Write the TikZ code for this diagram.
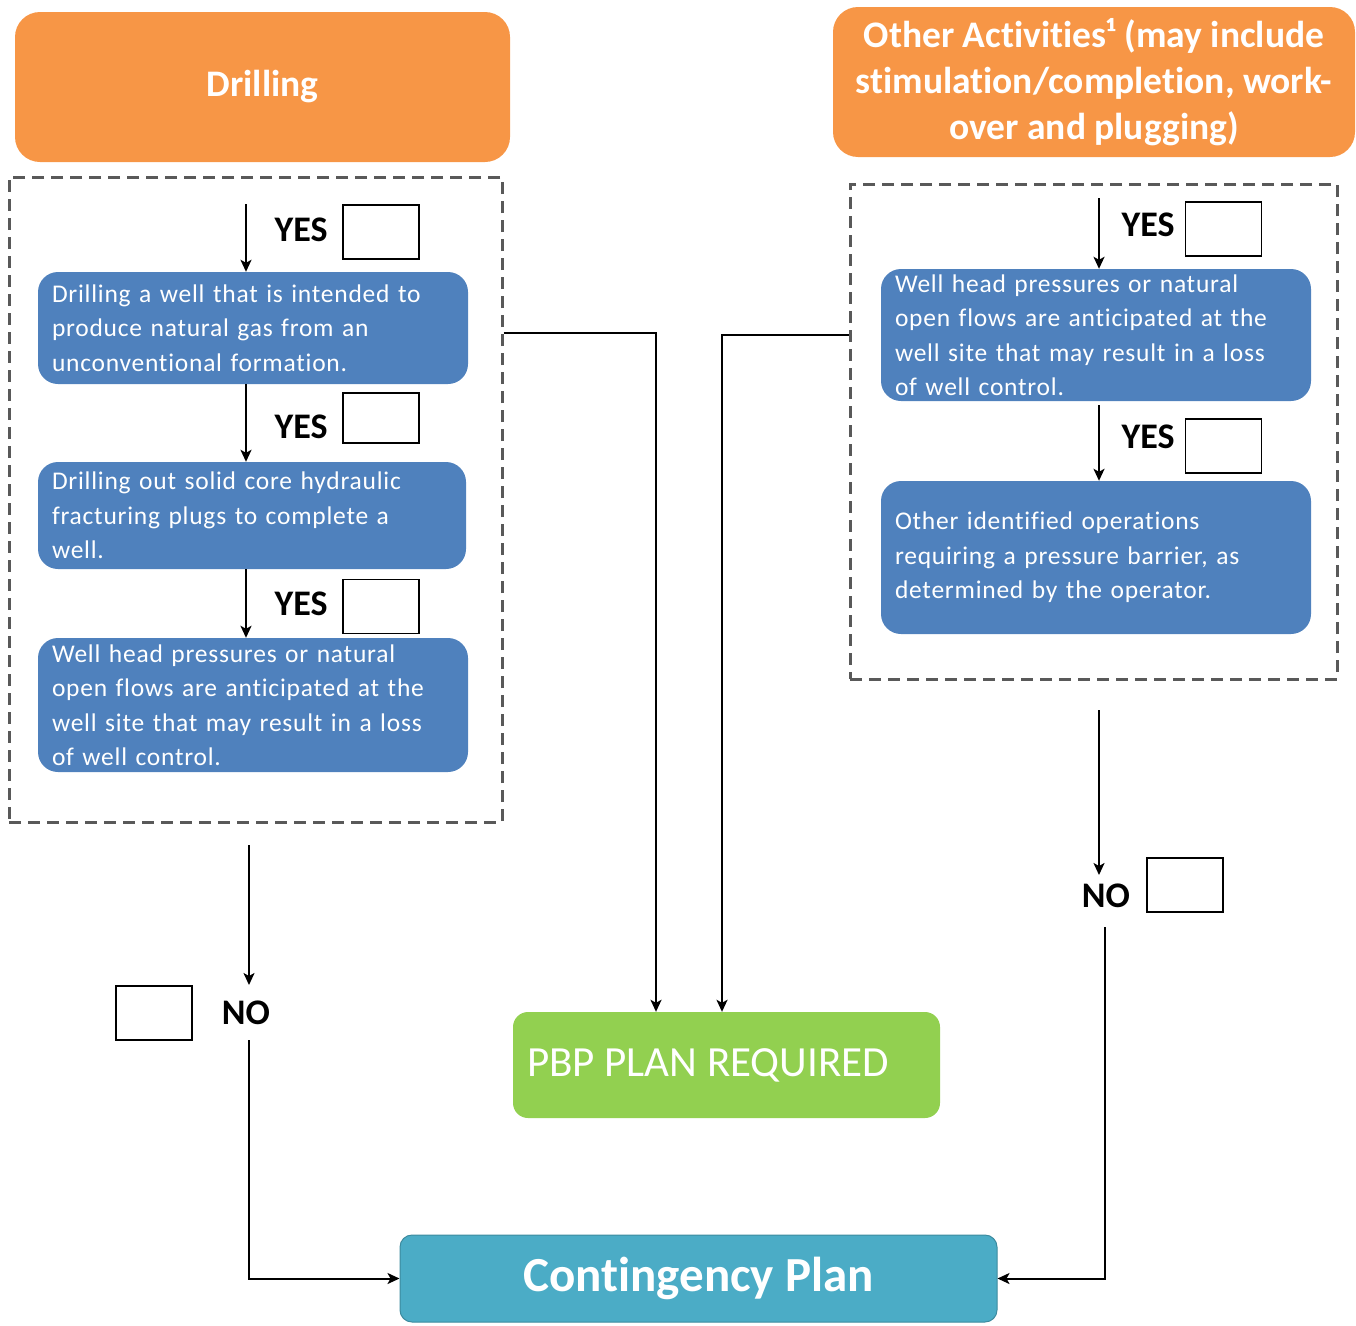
\documentclass[tikz,border=0pt]{standalone}
\usepackage{fontspec}
\setmainfont{Carlito}[Ligatures=NoCommon]
\newfontfamily\bluefont{Carlito}[Ligatures=NoCommon, LetterSpace=3]
\usetikzlibrary{arrows.meta,calc}
\definecolor{orng}{HTML}{F79646}
\definecolor{bluebox}{HTML}{4F81BD}
\definecolor{grn}{HTML}{92D050}
\definecolor{cyanbox}{HTML}{4BACC6}
\definecolor{dashgray}{HTML}{595959}
\begin{document}
\begin{tikzpicture}[x=1pt,y=-1pt,
  hdr/.style={fill=orng, rounded corners=25pt, text=white, font=\bfseries\fontsize{37.5}{46}\selectfont, inner sep=0pt, align=center},
  blu/.style={fill=bluebox, rounded corners=20pt, text=white, font=\bluefont\fontsize{25.5}{34.5}\selectfont, align=left, inner xsep=14pt, inner ysep=0pt, text width=402pt},
  dbox/.style={draw=dashgray, line width=3pt, dash pattern=on 12pt off 7pt, inner sep=0pt},
  chk/.style={draw, line width=1.5pt, minimum width=76pt, minimum height=54pt, inner sep=0pt},
  lbl/.style={font=\bfseries\fontsize{36}{40}\selectfont, inner sep=0pt},
  arr/.style={-{Stealth[length=12pt,width=11pt,inset=3pt]}, line width=2pt},
]
\useasboundingbox (0,0) rectangle (1356,1325);
% headers
\node[hdr, minimum width=495pt, minimum height=150pt] (drill) at (262.5,87) {Drilling};
\node[hdr, minimum width=522pt, minimum height=150pt] (other) at (1094,82) {Other Activities¹ (may include\\stimulation/completion, work-\\over and plugging)};
% dashed boxes
\node[dbox, minimum width=493pt, minimum height=645pt] (lbox) at (255.5,499.5) {};
\node[dbox, minimum width=487pt, minimum height=495pt] (rbox) at (1093.5,431.5) {};
% blue boxes
\node[blu, minimum height=112pt] (b1) at (253,328) {Drilling a well that is intended to\\produce natural gas from an\\unconventional formation.};
\node[blu, minimum height=107pt, text width=400pt] (b2) at (252,515.5) {Drilling out solid core hydraulic\\fracturing plugs to complete a\\well.};
\node[blu, minimum height=134pt] (b3) at (253,705) {Well head pressures or natural\\open flows are anticipated at the\\well site that may result in a loss\\of well control.};
\node[blu, minimum height=132pt] (b4) at (1096,335) {Well head pressures or natural\\open flows are anticipated at the\\well site that may result in a loss\\of well control.};
\node[blu, minimum height=153pt] (b5) at (1096,557.5) {Other identified operations\\requiring a pressure barrier, as\\determined by the operator.};
% result boxes
\node[fill=grn, rounded corners=15pt, minimum width=427pt, minimum height=106pt, inner sep=0pt, text=white, font=\fontsize{43}{46}\selectfont] (pbp) at (726.5,1065) {\makebox[399pt][l]{PBP PLAN REQUIRED}};
\node[fill=cyanbox, draw=cyanbox!80!black, line width=1pt, rounded corners=12pt, minimum width=597pt, minimum height=87pt, inner sep=0pt, text=white, font=\bfseries\fontsize{49}{52}\selectfont] (cont) at (698.5,1278.5) {Contingency Plan};
% checkboxes and labels
\node[chk] (c1) at (381,232) {};
\node[chk, minimum height=50pt] (c2) at (381,418) {};
\node[chk] (c3) at (381,606.5) {};
\node[chk] (c4) at (1223.5,229) {};
\node[chk] (c5) at (1223.5,446) {};
\node[chk] (cnl) at (154,1013) {};
\node[chk] (cnr) at (1185,885) {};
\node[lbl] (y1) at (301,230) {YES};
\node[lbl] (y2) at (301,427) {YES};
\node[lbl] (y3) at (301,604) {YES};
\node[lbl] (y4) at (1148,225) {YES};
\node[lbl] (y5) at (1148,437) {YES};
\node[lbl] (no1) at (246,1013) {NO};
\node[lbl] (no2) at (1106,896) {NO};
% coordinates
\coordinate (a1) at (246,204);
\coordinate (a4) at (1099,198);
\coordinate (lturn) at (656,333);
\coordinate (rturn) at (722,335);
\coordinate (n1s) at (249,845);
\coordinate (n1e) at (249,985);
\coordinate (n1b) at (249,1040);
\coordinate (n2s) at (1099,710);
\coordinate (n2e) at (1099,875);
\coordinate (n2b) at (1105,927);
% connectors
\draw[arr] (a1) -- (a1 |- b1.north);
\draw[arr] (b1.south -| a1) -- (a1 |- b2.north);
\draw[arr] (b2.south -| a1) -- (a1 |- b3.north);
\draw[arr] (a4) -- (a4 |- b4.north);
\draw[arr] ($(b4.south -| a4)+(0,4)$) -- (a4 |- b5.north);
\draw[arr] (lbox.east |- lturn) -- (lturn) -- (lturn |- pbp.north);
\draw[arr] (rbox.west |- rturn) -- (rturn) -- (rturn |- pbp.north);
\draw[arr] (n1s) -- (n1e);
\draw[arr] (n1b) -- (n1b |- cont.west) -- (cont.west);
\draw[arr] (n2s) -- (n2e);
\draw[arr] (n2b) -- (n2b |- cont.east) -- (cont.east);
\end{tikzpicture}
\end{document}
